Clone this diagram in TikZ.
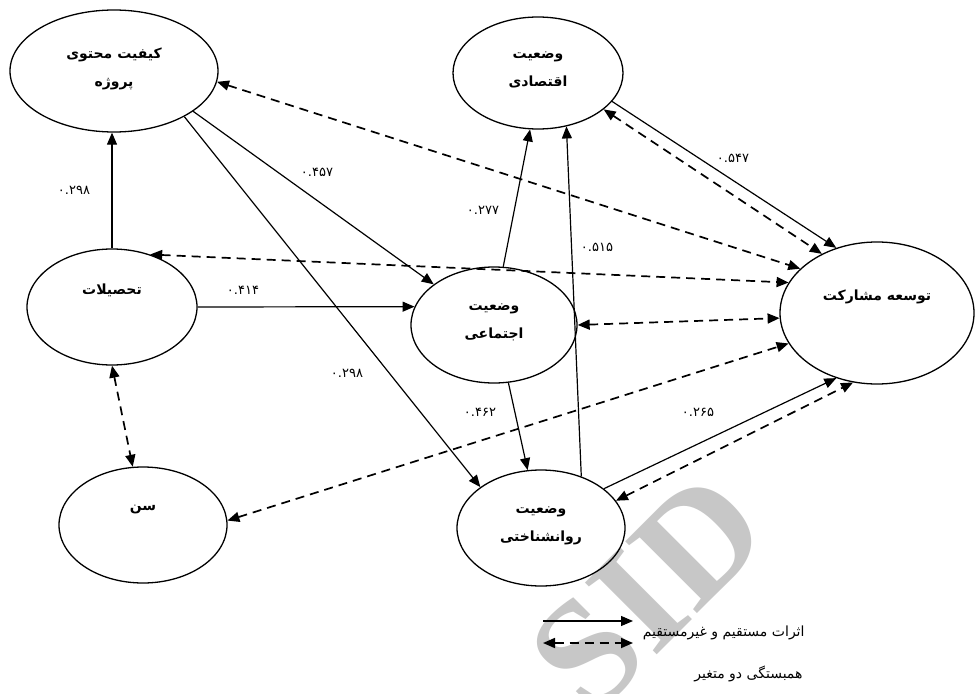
\documentclass[tikz,border=0pt]{standalone}
\usepackage{fontspec}
\newfontfamily\fa[Script=Arabic]{DejaVu Sans}
\newfontfamily\fab[Script=Arabic]{DejaVu Sans Bold}
\newfontfamily\wmfont{Liberation Serif Bold}
\TeXXeTstate=1
\usetikzlibrary{arrows.meta,shapes.geometric}
\begin{document}
\begin{tikzpicture}[x=1pt,y=-1pt,
  ell/.style={draw, line width=1.3pt, ellipse, inner sep=0pt, align=center,
    font=\fab\fontsize{14}{16}\selectfont},
  effect/.style={line width=1.2pt, -{Triangle[length=12pt,width=10pt]}},
  corr/.style={line width=1.7pt, dash pattern=on 9pt off 6pt,
    {Triangle[length=12pt,width=10pt]}-{Triangle[length=12pt,width=10pt]}},
  coef/.style={font=\fa\fontsize{13}{15}\selectfont},
  legtext/.style={anchor=east, font=\fa\fontsize{14}{16}\selectfont}]
\fill[white] (0,0) rectangle (976,693);
\useasboundingbox (0,0) rectangle (976,693);
% watermark
\node[font=\wmfont\fontsize{155}{155}\selectfont, text=black!22, rotate=45] (wm) at (648,592) {SID};
% nodes
\node[ell, minimum width=208pt, minimum height=122pt] (Q) at (114,71)
  {\beginR کیفیت محتوی\endR\\[12pt]\beginR پروژه\endR\\[-14pt]\strut};
\node[ell, minimum width=170pt, minimum height=112pt] (E) at (538,73)
  {\beginR وضعیت\endR\\[12pt]\beginR اقتصادی\endR\\[-14pt]\strut};
\node[ell, minimum width=170pt, minimum height=116pt] (T) at (112,307)
  {\beginR تحصیلات\endR\\[14pt]\strut};
\node[ell, minimum width=166pt, minimum height=116pt] (S) at (494,325)
  {\beginR وضعیت\endR\\[12pt]\beginR اجتماعی\endR\\[-14pt]\strut};
\node[ell, minimum width=194pt, minimum height=142pt] (D) at (877,313)
  {\beginR توسعه مشارکت\endR\\[14pt]\strut};
\node[ell, minimum width=168pt, minimum height=116pt] (A) at (143,525)
  {\beginR سن\endR\\[14pt]\strut};
\node[ell, minimum width=168pt, minimum height=116pt] (R) at (541,528)
  {\beginR وضعیت\endR\\[12pt]\beginR روانشناختی\endR\\[-14pt]\strut};
% direct effects
\draw[effect] (T.north) -- (T.north |- Q.south);
\draw[effect] (Q.-27) -- (S.146);
\draw[effect] (Q.-33.5) -- (R.146);
\draw[effect] (T.0) -- (S.167);
\draw[effect] (S.81) -- (E.262);
\draw[effect] (S.284) -- (R.103);
\draw[effect] (R.52) -- (E.298);
\draw[effect] (E.-21) -- (D.122);
\draw[effect] (R.32) -- (D.238);
% correlations
\draw[corr] (E.-29) -- (D.133);
\draw[corr] (Q.-6) -- (D.150);
\draw[corr] (T.54) -- (D.161);
\draw[corr] (S.east) -- (D.183);
\draw[corr] (A.3) -- (D.199);
\draw[corr] (R.20) -- (D.251);
\draw[corr] (T.south) -- (A.100);
% coefficients
\node[coef] (c1) at (74,190) {۰.۲۹۸};
\node[coef] (c2) at (317,172) {۰.۴۵۷};
\node[coef] (c3) at (483,210) {۰.۲۷۷};
\node[coef] (c4) at (243,290) {۰.۴۱۴};
\node[coef] (c5) at (347,373) {۰.۲۹۸};
\node[coef] (c6) at (480,412) {۰.۴۶۲};
\node[coef] (c7) at (597,247) {۰.۵۱۵};
\node[coef] (c8) at (733,158) {۰.۵۴۷};
\node[coef] (c9) at (698,412) {۰.۲۶۵};
% legend
\coordinate (la1) at (543,621);
\coordinate (la2) at (633,621);
\coordinate (lb1) at (543,643);
\coordinate (lb2) at (633,643);
\draw[effect] (la1) -- (la2);
\draw[corr] (lb1) -- (lb2);
\node[legtext] (lt1) at (808,633) {\beginR اثرات مستقیم و غیرمستقیم\endR};
\node[legtext] (lt2) at (806,674) {\beginR همبستگی دو متغیر\endR};
\end{tikzpicture}
\end{document}
